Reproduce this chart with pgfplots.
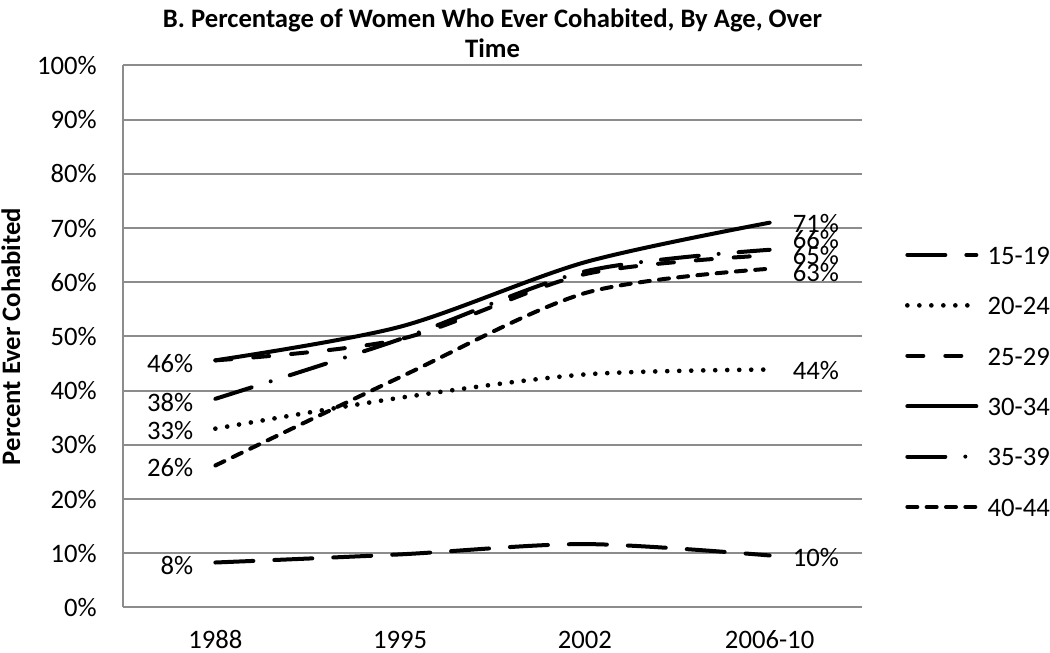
\documentclass[border=0pt]{standalone}
\usepackage{fontspec}
\setmainfont{Carlito}
\usepackage{pgfplots}
\pgfplotsset{compat=1.18}
\definecolor{gridgray}{HTML}{8C8C8C}
\newcommand{\lblfont}{\fontsize{20}{24}\selectfont}
\begin{document}
\begin{tikzpicture}
\path[use as bounding box] (-92.25pt,-34.125pt) rectangle (695.25pt,455.625pt);
\begin{axis}[
  at={(0,0)}, anchor=south west,
  scale only axis, width=554.25pt, height=406.5pt,
  xmin=-0.5, xmax=3.5, ymin=0, ymax=100,
  xtick={0,1,2,3}, xticklabels={1988,1995,2002,2006-10},
  ytick={0,10,...,100},
  yticklabels={0\%,10\%,20\%,30\%,40\%,50\%,60\%,70\%,80\%,90\%,100\%},
  axis x line*=bottom, axis y line*=left,
  axis line style={draw=gridgray, line width=1.5pt, -},
  ymajorgrids, grid style={draw=gridgray, line width=1.5pt},
  major tick length=0pt,
  tick label style={font=\lblfont, inner sep=0pt},
  yticklabel style={anchor=east, xshift=-19.5pt},
  xticklabel style={anchor=base, yshift=-31pt},
  ylabel={Percent Ever Cohabited},
  ylabel style={at={(axis description cs:-0.1516,0.5)}, anchor=center, font=\lblfont\bfseries, inner sep=0pt},
  title={B. Percentage of Women Who Ever Cohabited, By Age, Over\\Time},
  title style={at={(axis description cs:0.5,1)}, anchor=south, align=center, font=\fontsize{20}{22}\selectfont\bfseries, inner sep=0pt, yshift=0pt},
  clip=false,
  every axis plot/.append style={black, line width=3pt, line cap=round, smooth},
  legend image code/.code={\draw[#1] (1.5pt,0pt) -- (53.25pt,0pt);},
  legend style={at={(axis description cs:1.0582,0.4179)}, anchor=west, draw=none, fill=none,
    inner sep=0pt, outer sep=0pt, row sep=23.8pt, column sep=6.75pt, font=\lblfont,
    nodes={inner sep=0pt, text height=14pt, text depth=0pt}},
  legend cell align=left,
]
\addplot[dash pattern=on 28.5pt off 15.75pt] coordinates {(0,8.3) (1,9.8) (2,11.7) (3,9.6)};
\addlegendentry{15-19}
\addplot[line width=3.5pt, dash pattern=on 0pt off 9pt] coordinates {(0,33.0) (1,38.7) (2,43.0) (3,43.9)};
\addlegendentry{20-24}
\addplot[dash pattern=on 12pt off 16.5pt] coordinates {(0,45.6) (1,49.5) (2,61.5) (3,65.0)};
\addlegendentry{25-29}
\addplot[solid] coordinates {(0,45.6) (1,51.8) (2,63.7) (3,71.0)};
\addlegendentry{30-34}
\addplot[dash pattern=on 28.5pt off 15pt on 0pt off 15pt] coordinates {(0,38.5) (1,49.5) (2,62.0) (3,66.0)};
\addlegendentry{35-39}
\addplot[dash pattern=on 7.5pt off 7pt] coordinates {(0,26.2) (1,42.5) (2,58.0) (3,62.5)};
\addlegendentry{40-44}
% left data labels
\node[anchor=east, inner sep=0pt, font=\lblfont] at (axis cs:0,45.0) [xshift=-16.5pt] {46\%};
\node[anchor=east, inner sep=0pt, font=\lblfont] at (axis cs:0,37.8) [xshift=-16.5pt] {38\%};
\node[anchor=east, inner sep=0pt, font=\lblfont] at (axis cs:0,32.6) [xshift=-16.5pt] {33\%};
\node[anchor=east, inner sep=0pt, font=\lblfont] at (axis cs:0,25.8) [xshift=-16.5pt] {26\%};
\node[anchor=east, inner sep=0pt, font=\lblfont] at (axis cs:0,7.8) [xshift=-16.5pt] {8\%};
% right data labels
\node[anchor=west, inner sep=0pt, font=\lblfont] at (axis cs:3,70.8) [xshift=17.25pt] {71\%};
\node[anchor=west, inner sep=0pt, font=\lblfont] at (axis cs:3,67.9) [xshift=17.25pt] {66\%};
\node[anchor=west, inner sep=0pt, font=\lblfont] at (axis cs:3,64.9) [xshift=17.25pt] {65\%};
\node[anchor=west, inner sep=0pt, font=\lblfont] at (axis cs:3,61.8) [xshift=17.25pt] {63\%};
\node[anchor=west, inner sep=0pt, font=\lblfont] at (axis cs:3,43.7) [xshift=17.25pt] {44\%};
\node[anchor=west, inner sep=0pt, font=\lblfont] at (axis cs:3,9.2) [xshift=17.25pt] {10\%};
\end{axis}
\end{tikzpicture}
\end{document}
